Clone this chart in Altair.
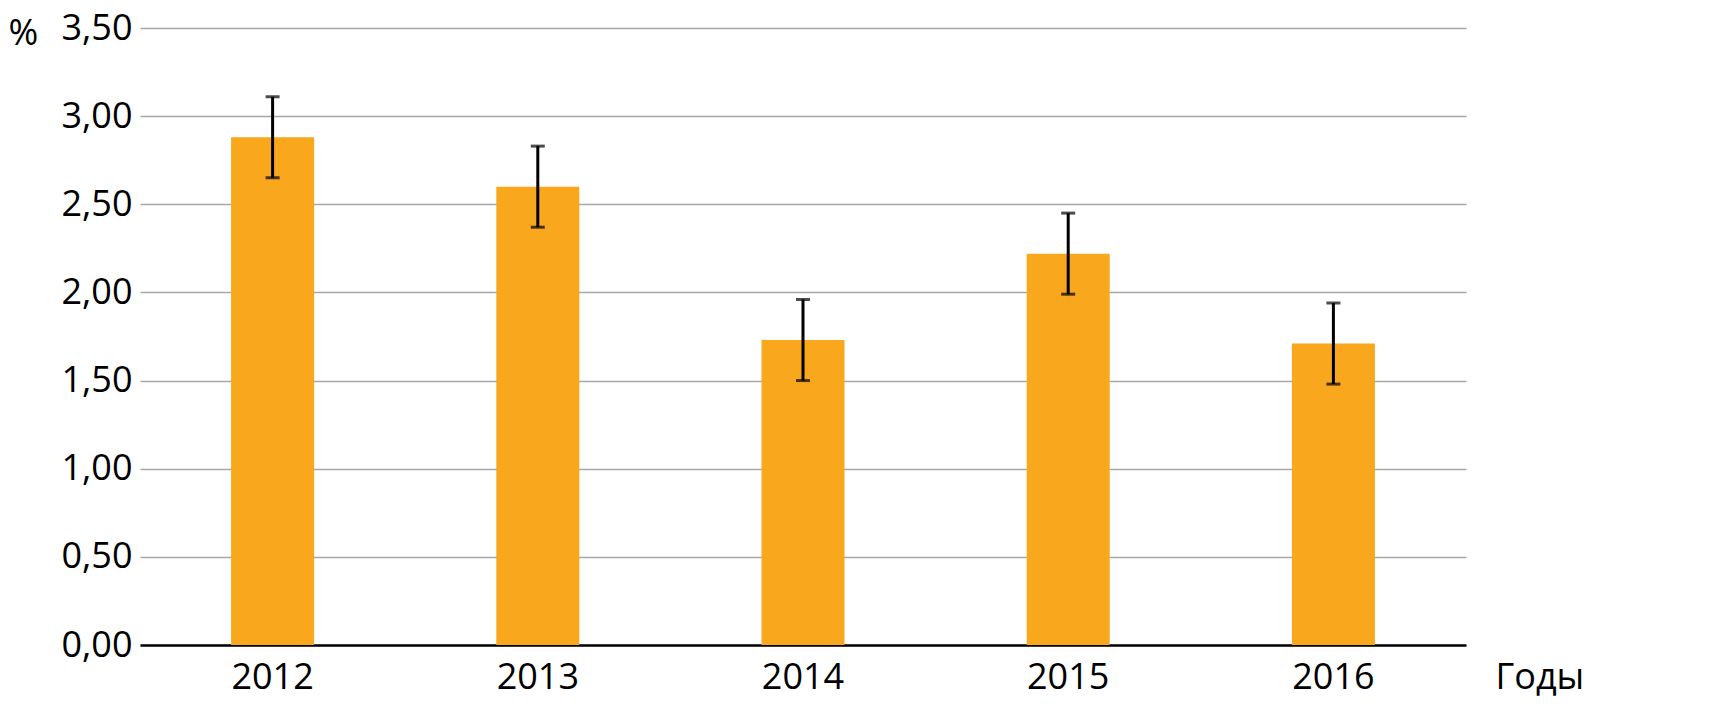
import altair as alt
import pandas as pd

years = ["2012", "2013", "2014", "2015", "2016"]
values = [2.88, 2.60, 1.73, 2.22, 1.71]
err_low = [2.65, 2.37, 1.50, 1.99, 1.48]
err_high = [3.11, 2.83, 1.96, 2.45, 1.94]
y_ticks = [0, 0.5, 1.0, 1.5, 2.0, 2.5, 3.0, 3.5]

df = pd.DataFrame({"year": years, "value": values, "lo": err_low, "hi": err_high})

FONT = "Open Sans"
W, H = 1326, 617

x = alt.X(
    "year:N",
    sort=years,
    scale=alt.Scale(paddingInner=0.687, paddingOuter=0.3435),
    axis=alt.Axis(
        title="Годы",
        titleX=1355,
        titleY=32,
        titleAlign="left",
        titleBaseline="middle",
        titleFont=FONT,
        titleFontSize=36,
        titleFontWeight="normal",
        titleColor="#000000",
        labelAngle=0,
        labelFont=FONT,
        labelFontSize=36,
        labelColor="#000000",
        labelPadding=15,
        ticks=False,
        domainColor="#000000",
        domainWidth=2.5,
        grid=False,
    ),
)

y_axis = alt.Axis(
    title="%",
    titleAngle=0,
    titleX=-132,
    titleY=5,
    titleAlign="left",
    titleBaseline="middle",
    titleFont=FONT,
    titleFontSize=36,
    titleFontWeight="normal",
    titleColor="#000000",
    values=y_ticks,
    labelExpr="replace(format(datum.value, '.2f'), '.', ',')",
    labelFont=FONT,
    labelFontSize=36,
    labelColor="#000000",
    labelPadding=8,
    ticks=False,
    domain=False,
    grid=True,
    gridColor="#a6a6a6",
    gridWidth=1.5,
)

y = alt.Y("value:Q", scale=alt.Scale(domain=[0, 3.5], nice=False), axis=y_axis)

bars = alt.Chart(df).mark_bar(color="#F9A71C").encode(x=x, y=y)

rules = alt.Chart(df).mark_rule(color="#000000", strokeWidth=3).encode(
    x=alt.X("year:N", sort=years),
    y=alt.Y("lo:Q"),
    y2="hi:Q",
)
caps_lo = alt.Chart(df).mark_tick(color="#000000", size=14, thickness=3, orient="horizontal").encode(
    x=alt.X("year:N", sort=years), y=alt.Y("lo:Q")
)
caps_hi = alt.Chart(df).mark_tick(color="#000000", size=14, thickness=3, orient="horizontal").encode(
    x=alt.X("year:N", sort=years), y=alt.Y("hi:Q")
)

chart = (
    alt.layer(bars, rules, caps_lo, caps_hi)
    .properties(
        width=W,
        height=H,
        background="white",
        autosize=alt.AutoSizeParams(type="none"),
        padding={"left": 132, "top": 20, "right": 250, "bottom": 52},
    )
    .configure_view(stroke=None)
)

chart.save("out.html", embed_options={"renderer": "svg", "actions": False})
